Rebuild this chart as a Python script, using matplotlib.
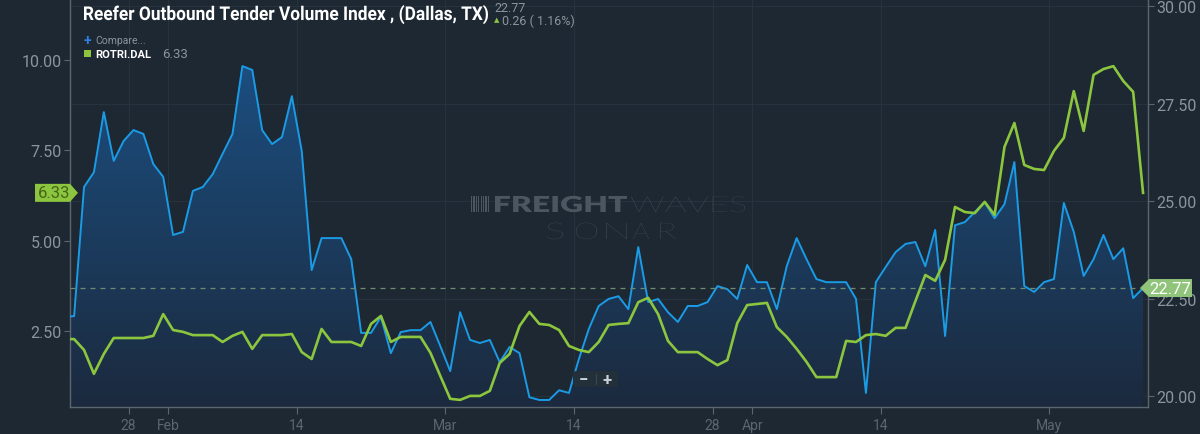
import matplotlib
matplotlib.use("Agg")
import matplotlib.pyplot as plt
import matplotlib.patches as mpatches
import matplotlib.transforms as mtransforms
from matplotlib.textpath import TextPath
from matplotlib.font_manager import FontProperties
import numpy as np
import pandas as pd

# daily points, first one sits just left of the visible area
dates = pd.date_range("2019-01-21 12:00", periods=110, freq="D")

# ROTVI Dallas (blue area, right axis)
tender_volume = [
    22.03,
    22.05, 25.36, 25.74, 27.28, 26.03, 26.54, 26.82, 26.72, 25.95, 25.62,
    24.13, 24.21, 25.26, 25.36, 25.69, 26.21, 26.72, 28.46, 28.36, 26.82,
    26.46, 26.64, 27.69, 26.28, 23.23, 24.05, 24.05, 24.05, 23.51, 21.62,
    21.62, 22.03, 21.10, 21.64, 21.69, 21.69, 21.90, 21.28, 20.64, 22.15,
    21.44, 21.36, 21.44, 20.87, 21.26, 21.10, 19.97, 19.90, 19.90, 20.15,
    20.08, 20.95, 21.72, 22.31, 22.49, 22.56, 22.23, 23.82, 22.41, 22.49,
    22.15, 21.90, 22.31, 22.31, 22.41, 22.82, 22.74, 22.49, 23.36, 22.92,
    22.92, 22.23, 23.33, 24.05, 23.51, 23.00, 22.92, 22.92, 22.92, 22.49,
    20.08, 22.92, 23.31, 23.69, 23.90, 23.95, 23.33, 24.26, 21.54, 24.38,
    24.46, 24.72, 24.97, 24.56, 24.92, 26.00, 22.82, 22.67, 22.92, 23.00,
    24.95, 24.21, 23.08, 23.51, 24.13, 23.51, 23.79, 22.51, 22.77]

# ROTRI.DAL (green line, left axis)
reject_rate = [
    2.29,
    2.29, 1.99, 1.33, 1.88, 2.32, 2.32, 2.32, 2.32, 2.38, 2.98,
    2.54, 2.49, 2.40, 2.40, 2.40, 2.21, 2.38, 2.49, 2.02, 2.40,
    2.40, 2.40, 2.43, 1.93, 1.74, 2.57, 2.21, 2.21, 2.21, 2.10,
    2.71, 2.93, 2.21, 2.35, 2.35, 2.35, 1.91, 1.27, 0.64, 0.61,
    0.72, 0.72, 0.86, 1.63, 1.88, 2.65, 3.04, 2.71, 2.68, 2.54,
    2.10, 1.99, 1.93, 2.21, 2.68, 2.71, 2.73, 3.31, 3.43, 2.98,
    2.24, 1.93, 1.93, 1.93, 1.74, 1.57, 1.71, 2.73, 3.23, 3.26,
    3.29, 2.62, 2.35, 2.02, 1.66, 1.24, 1.24, 1.24, 2.24, 2.21,
    2.40, 2.43, 2.38, 2.60, 2.60, 3.34, 4.06, 3.90, 4.48, 5.94,
    5.80, 5.77, 6.08, 5.72, 7.60, 8.26, 7.10, 6.99, 6.96, 7.49,
    7.85, 9.14, 8.04, 9.59, 9.75, 9.83, 9.42, 9.12, 6.33]

tick_dates = ["2019-01-28", "2019-02-01", "2019-02-14", "2019-03-01", "2019-03-14",
              "2019-03-28", "2019-04-01", "2019-04-14", "2019-05-01"]
tick_labels = ["28", "Feb", "14", "Mar", "14", "28", "Apr", "14", "May"]
left_ticks = [2.5, 5.0, 7.5, 10.0]
right_ticks = [20.0, 22.5, 25.0, 27.5, 30.0]

BG = "#1d2833"
GRID = "#26323d"
SPINE = "#5c6670"
LABEL = "#8b959e"
BLUE = "#1b9be6"
GREEN = "#8cc63f"

plt.rcParams["font.family"] = ["Roboto", "DejaVu Sans"]

W, H = 1200, 435


def fx(x):
    return x / W


def fy(y):
    return 1 - y / H


fig = plt.figure(figsize=(12, 4.35), dpi=100, facecolor=BG)


def fitted_text(s, left, right, base, size, color, **font):
    # text drawn as a path, squeezed/stretched to span left..right (pixels)
    tp = TextPath((0, 0), s, size=size, prop=FontProperties(**font))
    bb = tp.get_extents()
    sx = (right - left) / bb.width
    tr = (mtransforms.Affine2D().translate(-bb.x0, 0).scale(sx, 1)
          .translate(left, H - base))
    fig.add_artist(mpatches.PathPatch(tp, transform=tr, facecolor=color,
                                      edgecolor="none", lw=0))


ax_b = fig.add_axes([fx(70), fy(408), fx(1148) - fx(70), fy(0) - fy(408)])
ax_b.set_facecolor(BG)
ax_g = ax_b.twinx()

x0 = dates[1] - pd.Timedelta(hours=10)
x1 = dates[1] + pd.Timedelta(hours=int(108.5 * 24))

# blue area with vertical gradient
ax_b.plot(dates, tender_volume, color=BLUE, lw=1.4, zorder=3)
poly = ax_b.fill_between(dates, tender_volume, 19.72, color="none", lw=0)
grad = np.linspace(1, 0, 256).reshape(-1, 1)
top = np.array([0x1c, 0x55, 0x8c]) / 255
bot = np.array([0x1b, 0x2a, 0x3e]) / 255
img = top * grad[..., None] + bot * (1 - grad[..., None])
xl = matplotlib.dates.date2num([x0, x1])
im = ax_b.imshow(img, extent=[xl[0], xl[1], 19.72, 30.18], aspect="auto",
                 origin="upper", zorder=2)
im.set_clip_path(poly.get_paths()[0], transform=ax_b.transData)
ax_b.set_xlim(x0, x1)
ax_b.set_ylim(19.72, 30.18)
ax_g.set_ylim(0.414, 11.685)

ax_b.axhline(tender_volume[-1], color="#6f8a6e", lw=0.9, ls=(0, (4, 4)), zorder=4)

ax_g.plot(dates, reject_rate, color=GREEN, lw=1.9, zorder=5)

# axes styling
ax_b.yaxis.tick_right()
ax_b.set_yticks(right_ticks)
ax_b.set_yticklabels(["%.2f" % v for v in right_ticks])
ax_g.yaxis.tick_left()
ax_g.set_yticks(left_ticks)
ax_g.set_yticklabels(["%.2f" % v for v in left_ticks])
ax_b.set_xticks(pd.to_datetime(tick_dates))
ax_b.set_xticklabels(tick_labels)
for lab, txt in zip(ax_b.get_xticklabels(), tick_labels):
    lab.set_color(LABEL if txt.isdigit() else "#c9d0d6")

for a in (ax_b, ax_g):
    a.tick_params(axis="y", colors=SPINE, labelcolor=LABEL, labelsize=11.5,
                  length=4, width=0.8, pad=2)
ax_b.tick_params(axis="x", colors=SPINE, labelsize=10, length=5, width=0.8, pad=3)

ax_b.grid(True, color=GRID, lw=0.8)
ax_b.set_axisbelow(True)
for s in ("left", "right", "bottom"):
    ax_b.spines[s].set_color(SPINE)
    ax_b.spines[s].set_linewidth(1.0)
ax_b.spines["top"].set_visible(False)
for s in ax_g.spines.values():
    s.set_visible(False)

# value tags on the axes
yb = ax_b.transData.transform((0, tender_volume[-1]))[1]
yg = ax_g.transData.transform((0, reject_rate[-1]))[1]
tag_r = [(1140, yb), (1149, yb + 9), (1192, yb + 9), (1192, yb - 9), (1149, yb - 9)]
tag_l = [(78, yg), (70, yg + 9), (35, yg + 9), (35, yg - 9), (70, yg - 9)]
for pts, col in ((tag_r, "#8fc47a"), (tag_l, GREEN)):
    fig.add_artist(mpatches.Polygon([(px / W, py / H) for px, py in pts],
                                    closed=True, transform=fig.transFigure,
                                    facecolor=col, edgecolor="none", zorder=10))
fig.text(fx(1170), yb / H, "%.2f" % tender_volume[-1], color="white", fontsize=12,
         ha="center", va="center", zorder=11)
fig.text(fx(54), yg / H, "%.2f" % reject_rate[-1], color="#45641c", fontsize=12,
         ha="center", va="center", zorder=11)

# title and legend
fitted_text("Reefer Outbound Tender Volume Index , (Dallas, TX)", 84, 488, 21, 19,
            "white", family="Roboto", weight="bold")
fig.text(fx(494), fy(9), "22.77", color=LABEL, fontsize=9, va="center")
fig.text(fx(494), fy(21), "\u25b2", color=GREEN, fontsize=5, va="center")
fig.text(fx(502), fy(21), "0.26 ( 1.16%)", color=LABEL, fontsize=9, va="center")

fig.text(fx(84), fy(41), "+", color="#2f80e0", fontsize=10, va="center", fontweight="bold")
fig.text(fx(95), fy(41), "Compare...", color=LABEL, fontsize=7.5, va="center")
fig.add_artist(mpatches.Rectangle((fx(84), fy(58)), 7 / W, 7 / H, transform=fig.transFigure,
                                  facecolor=GREEN, edgecolor="none"))
fig.text(fx(95), fy(55), "ROTRI.DAL", color="white", fontsize=8, va="center", fontweight="bold")
fig.text(fx(162), fy(55), "6.33", color=LABEL, fontsize=9.5, va="center")

# watermark
wm = "#4b5661"
fitted_text("FREIGHT", 495, 627, 213, 22, wm, family="Lato", weight="heavy")
fitted_text("WAVES", 631, 745, 213, 22, wm, family="Lato", weight="light")
for i in range(8):
    fig.add_artist(mpatches.Rectangle((fx(471 + i * 2.4), fy(213)), 1.2 / W, 16 / H,
                                      transform=fig.transFigure, facecolor=wm, edgecolor="none"))
for ch, cx in zip("SONAR", [547, 576, 606, 633, 660]):
    fitted_text(ch, cx, cx + (21 if ch in "ON" else 16), 240, 23, wm,
                family="Lato", weight="light")

# zoom control
fig.add_artist(mpatches.FancyBboxPatch((fx(573), fy(388)), 45 / W, 16 / H,
                                       boxstyle="round,pad=0,rounding_size=0.004",
                                       transform=fig.transFigure, facecolor="#243039",
                                       edgecolor="none", zorder=8))
fig.text(fx(583), fy(380), "\u2212", color="#c9d0d6", fontsize=12, ha="center", va="center",
         fontweight="bold", zorder=9)
fig.text(fx(607), fy(380), "+", color="#c9d0d6", fontsize=12, ha="center", va="center",
         fontweight="bold", zorder=9)
fig.add_artist(plt.Line2D([fx(596), fx(596)], [fy(385), fy(375)], color="#3a4652",
                          lw=0.8, transform=fig.transFigure, zorder=9))

fig.savefig("out.png", dpi=100, facecolor=BG)
